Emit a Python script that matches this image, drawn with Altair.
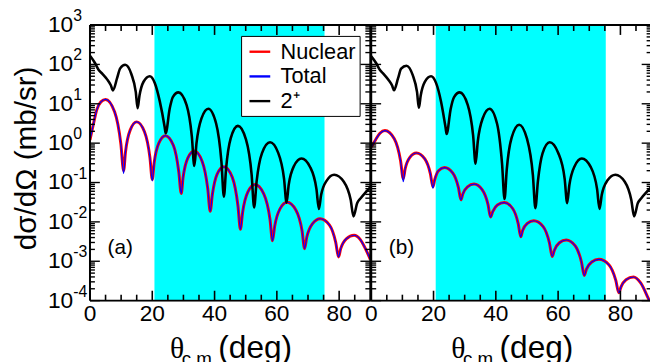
import altair as alt
import pandas as pd

# ---------------- data ----------------
SERIES = ["Nuclear", "Total", "2⁺"]
COLORS = ["#ff0000", "#0000ff", "#000000"]
WIDTHS = [3.0, 1.2, 2.6]

# panel (a)
THETA_A_NUC = [0.0, 1.0, 2.2, 3.5, 5.0, 7.9, 9.9, 10.8, 11.4, 12.9, 15.0, 17.5, 19.25, 20.0, 20.6, 22.1,
               24.2, 26.8, 28.5, 29.3, 29.9, 31.4, 33.5, 36.0, 37.8, 38.6, 39.3, 40.8, 43.0, 45.7, 47.5,
               48.3, 49.0, 50.7, 53.0, 55.8, 57.8, 58.6, 59.3, 61.0, 63.3, 66.1, 68.1, 68.9, 69.6, 71.4,
               73.9, 76.9, 78.9, 79.8, 80.5, 82.3, 84.8, 86.8, 88.5, 90.0]
NUC_A = [1.2, 2.8, 7.1, 11.2, 12.9, 6.3, 0.98, 0.20, 0.59, 2.14, 3.47, 1.95, 0.43, 0.12, 0.316, 1.0,
         1.55, 0.87, 0.19, 0.0525, 0.135, 0.417, 0.63, 0.347, 0.0708, 0.0186, 0.0501, 0.162, 0.251,
         0.135, 0.0257, 0.00646, 0.0174, 0.0575, 0.0891, 0.0513, 0.0115, 0.00331, 0.00776, 0.0214,
         0.0316, 0.0200, 0.00589, 0.00209, 0.00407, 0.00891, 0.0120, 0.00832, 0.00302, 0.00129,
         0.00209, 0.00372, 0.00457, 0.00355, 0.00204, 0.00112]
TOT_A = [1.2, 2.8, 7.1, 11.2, 12.9, 6.3, 0.98, 0.17, 0.59, 2.14, 3.47, 1.95, 0.43, 0.11, 0.316, 1.0,
         1.55, 0.87, 0.19, 0.0525, 0.135, 0.417, 0.63, 0.347, 0.0708, 0.0186, 0.0501, 0.162, 0.251,
         0.135, 0.0257, 0.00646, 0.0174, 0.0575, 0.0891, 0.0513, 0.0115, 0.00331, 0.00776, 0.0214,
         0.0316, 0.0200, 0.00589, 0.00209, 0.00407, 0.00891, 0.0120, 0.00832, 0.00302, 0.00129,
         0.00209, 0.00372, 0.00457, 0.00355, 0.00204, 0.00112]
THETA_A_BLK = [0.0, 1.5, 2.8, 4.0, 5.5, 6.7, 7.4, 8.7, 9.7, 11.3, 13.3, 14.7, 15.3, 15.9, 17.2, 19.2,
               20.8, 22.4, 24.0, 24.3, 25.6, 26.6, 28.4, 31.0, 32.7, 33.5, 34.2, 35.8, 38.0, 40.5, 42.2,
               43.0, 43.7, 45.2, 47.5, 50.1, 51.9, 52.7, 53.5, 55.2, 57.8, 60.4, 62.3, 63.1, 63.8, 65.5,
               67.9, 70.7, 72.7, 73.5, 74.2, 76.0, 78.4, 81.5, 83.7, 84.6, 85.8, 86.9, 88.5, 90.0]
BLK_A = [166, 112, 72.4, 57.5, 41.7, 29.5, 21.9, 44.7, 79.4, 97.7, 56.2, 20.0, 7.67, 16.2, 36.3, 50.1,
         33.9, 11.7, 2.51, 1.78, 7.59, 14.8, 19.5, 9.33, 1.48, 0.263, 1.0, 4.27, 7.50, 3.16, 0.339,
         0.0437, 0.229, 1.35, 2.75, 1.23, 0.158, 0.0234, 0.107, 0.550, 1.05, 0.575, 0.126, 0.0309,
         0.0871, 0.263, 0.407, 0.245, 0.0692, 0.0214, 0.0479, 0.112, 0.158, 0.105, 0.0363, 0.0138,
         0.0302, 0.0398, 0.0562, 0.0759]

# panel (b)
THETA_B_NUC = [0.0, 1.5, 2.8, 4.4, 7.4, 9.4, 10.3, 10.9, 12.4, 14.5, 17.2, 19.0, 19.8, 20.4, 21.6, 23.5,
               26.2, 28.0, 28.8, 29.4, 30.9, 33.0, 35.6, 37.5, 38.3, 39.0, 40.5, 42.7, 45.4, 47.2, 48.0,
               48.6, 50.1, 52.2, 55.2, 57.2, 58.1, 58.8, 60.4, 62.6, 65.5, 67.5, 68.4, 69.1, 70.8, 73.1,
               76.3, 78.5, 79.5, 80.2, 81.8, 84.2, 86.5, 89.0, 90.0]
NUC_B = [0.794, 1.26, 1.78, 2.09, 1.29, 0.363, 0.126, 0.224, 0.437, 0.562, 0.398, 0.166, 0.0776, 0.120,
         0.200, 0.240, 0.174, 0.0741, 0.0363, 0.0513, 0.0776, 0.0912, 0.0661, 0.0275, 0.0132, 0.0182,
         0.0269, 0.0309, 0.0219, 0.00891, 0.00417, 0.00603, 0.00912, 0.0107, 0.00759, 0.00295, 0.00132,
         0.00191, 0.00295, 0.00347, 0.00245, 0.000955, 0.000437, 0.000631, 0.000955, 0.00112, 0.000813,
         0.000331, 0.000158, 0.000224, 0.000339, 0.000398, 0.000282, 0.000112, 0.0000759]
TOT_B = [0.794, 1.26, 1.78, 2.09, 1.29, 0.363, 0.105, 0.224, 0.437, 0.562, 0.398, 0.166, 0.072, 0.120,
         0.200, 0.240, 0.174, 0.0741, 0.0363, 0.0513, 0.0776, 0.0912, 0.0661, 0.0275, 0.0132, 0.0182,
         0.0269, 0.0309, 0.0219, 0.00891, 0.00417, 0.00603, 0.00912, 0.0107, 0.00759, 0.00295, 0.00132,
         0.00191, 0.00295, 0.00347, 0.00245, 0.000955, 0.000437, 0.000631, 0.000955, 0.00112, 0.000813,
         0.000331, 0.000158, 0.000224, 0.000339, 0.000398, 0.000282, 0.000112, 0.0000759]
THETA_B_BLK = [0.0, 1.5, 2.8, 4.0, 5.5, 6.7, 7.3, 8.6, 9.6, 11.3, 13.3, 14.7, 15.3, 15.9, 17.2, 19.2,
               20.8, 22.4, 23.9, 24.2, 25.5, 26.6, 28.4, 31.0, 32.7, 33.5, 34.2, 35.8, 38.0, 40.4, 42.0,
               42.8, 43.5, 45.1, 47.5, 50.0, 51.9, 52.7, 53.5, 55.0, 57.3, 60.0, 62.1, 62.9, 63.6, 65.3,
               67.6, 70.5, 72.5, 73.3, 74.0, 75.8, 78.4, 81.4, 83.5, 84.4, 85.6, 86.7, 88.3, 90.0]
BLK_B = [160, 110, 72, 57, 41, 29, 22, 44, 78, 93, 54, 20, 7.9, 16.5, 36, 50,
         34, 11.5, 2.4, 1.7, 7.4, 14.8, 19.5, 9.3, 1.6, 0.30, 1.1, 4.3, 7.5, 3.1, 0.30,
         0.038, 0.21, 1.4, 2.95, 1.3, 0.155, 0.0224, 0.105, 0.55, 1.05, 0.57, 0.124, 0.030,
         0.085, 0.26, 0.407, 0.245, 0.069, 0.0214, 0.048, 0.112, 0.158, 0.105, 0.036, 0.0138,
         0.030, 0.040, 0.056, 0.078]

SHADE_LO, SHADE_HI = 20.7, 75.3
PANELS = ["(a)", "(b)"]
PANEL_LABEL_POS = (9.7, 0.0022)
X_MAJOR = [0, 20, 40, 60, 80]
X_MINOR = [5, 10, 15, 25, 30, 35, 45, 50, 55, 65, 70, 75, 85]
Y_MAJOR = [1e-4, 1e-3, 1e-2, 1e-1, 1e0, 1e1, 1e2, 1e3]
Y_EXP = ["-4", "-3", "-2", "-1", "0", "1", "2", "3"]
Y_MINOR = [m * 10.0 ** k for k in range(-4, 3) for m in range(2, 10)]
Y_TITLE = "dσ/dΩ (mb/sr)"
X_TITLE = ["θ", "c.m.", "(deg)"]

# ---------------- layout ----------------
OFFSET_B = 90.3          # panel (b) sits right of panel (a) on one shared x scale
X_MAX = 179.8
W, H = 567, 279
FONT = "Liberation Sans"

rows = []
def add(panel, sid, thetas, vals):
    off = 0.0 if panel == "(a)" else OFFSET_B
    for t, v in zip(thetas, vals):
        rows.append({"panel": panel, "sid": sid, "series": SERIES[sid],
                     "key": f"{sid}{panel}", "xc": t + off, "v": v})

add("(a)", 0, THETA_A_NUC, NUC_A)
add("(a)", 1, THETA_A_NUC, TOT_A)
add("(a)", 2, THETA_A_BLK, BLK_A)
add("(b)", 0, THETA_B_NUC, NUC_B)
add("(b)", 1, THETA_B_NUC, TOT_B)
add("(b)", 2, THETA_B_BLK, BLK_B)
df = pd.DataFrame(rows)

xscale = alt.Scale(domain=[0, X_MAX], nice=False, zero=False)
yscale = alt.Scale(type="log", domain=[1e-4, 1e3], nice=False)

def X(f):
    return alt.X(f, scale=xscale, axis=None)

def Y(f):
    return alt.Y(f, scale=yscale, axis=None)

# shaded region
shade_df = pd.DataFrame({"lo": [SHADE_LO, SHADE_LO + OFFSET_B],
                         "hi": [SHADE_HI, SHADE_HI + OFFSET_B],
                         "ylo": [1e-4, 1e-4], "yhi": [1e3, 1e3]})
shade = alt.Chart(shade_df).mark_rect(color="#00ffff").encode(
    x=X("lo:Q"), x2="hi:Q", y=Y("ylo:Q"), y2="yhi:Q")

legend = alt.Legend(title=None, orient="none", legendX=153, legendY=11,
                    fillColor="white", strokeColor="black", padding=4,
                    symbolType="stroke", symbolSize=441, symbolOffset=3,
                    symbolStrokeWidth=2.4,
                    labelFont=FONT, labelFontSize=22, labelColor="black",
                    labelOffset=9, rowPadding=2)
color_enc = alt.Color("series:N", scale=alt.Scale(domain=SERIES, range=COLORS), legend=legend)

def curve(sid):
    return alt.Chart(df).transform_filter(alt.datum.sid == sid).mark_line(
        interpolate="monotone", clip=True, strokeWidth=WIDTHS[sid]).encode(
        x=X("xc:Q"), y=Y("v:Q"), color=color_enc, detail="key:N")

# frame
frame_df = pd.DataFrame({
    "x": [0, 0, 0, 90, OFFSET_B],
    "x2": [OFFSET_B + 90, OFFSET_B + 90, 0, 90, OFFSET_B],
    "y": [1e-4, 1e3, 1e-4, 1e-4, 1e-4],
    "y2": [1e-4, 1e3, 1e3, 1e3, 1e3],
})
frame = alt.Chart(frame_df).mark_rule(color="black", strokeWidth=2).encode(
    x=X("x:Q"), x2="x2:Q", y=Y("y:Q"), y2="y2:Q")

layers = [shade, curve(0), curve(1), curve(2), frame]

# inward ticks, x (bottom and top)
for vals, ln in [(X_MAJOR, 10), (X_MINOR, 6)]:
    xs = vals + [v + OFFSET_B for v in vals]
    tdf = pd.DataFrame({"x": xs})
    layers.append(alt.Chart(tdf).mark_rule(color="black", strokeWidth=1.6).encode(
        x=X("x:Q"), y=alt.value(H), y2=alt.value(H - ln)))
    layers.append(alt.Chart(tdf).mark_rule(color="black", strokeWidth=1.6).encode(
        x=X("x:Q"), y=alt.value(0), y2=alt.value(ln)))

# inward ticks, y (four vertical axes)
for xpos, sign in [(0, 1), (90, -1), (OFFSET_B, 1), (OFFSET_B + 90, -1)]:
    for vals, ln in [(Y_MAJOR, 10), (Y_MINOR, 5)]:
        tdf = pd.DataFrame({"y": vals, "x": [xpos] * len(vals)})
        layers.append(alt.Chart(tdf).mark_rule(color="black", strokeWidth=1.4, x2Offset=sign * ln).encode(
            x=X("x:Q"), x2="x:Q", y=Y("y:Q")))

# tick labels
xl_df = pd.DataFrame({"x": X_MAJOR + [v + OFFSET_B for v in X_MAJOR],
                      "t": [str(v) for v in X_MAJOR] * 2})
layers.append(alt.Chart(xl_df).mark_text(font=FONT, fontSize=23, color="black",
                                         align="center", baseline="top").encode(
    x=X("x:Q"), y=alt.value(H + 3), text="t:N"))
yl_df = pd.DataFrame({"y": Y_MAJOR, "e": Y_EXP, "b": ["10"] * len(Y_MAJOR)})
layers.append(alt.Chart(yl_df).mark_text(font=FONT, fontSize=23, color="black",
                                         align="right", baseline="middle").encode(
    x=alt.value(-17), y=Y("y:Q"), text="b:N"))
layers.append(alt.Chart(yl_df).mark_text(font=FONT, fontSize=16, color="black",
                                         align="left", baseline="middle", dy=-9).encode(
    x=alt.value(-17), y=Y("y:Q"), text="e:N"))

# y title
layers.append(alt.Chart(pd.DataFrame({"t": [Y_TITLE]})).mark_text(
    font=FONT, fontSize=30, color="black", angle=270, align="center",
    baseline="alphabetic").encode(x=alt.value(-55), y=alt.value(135), text="t:N"))

# panel labels
lab_df = pd.DataFrame({"x": [PANEL_LABEL_POS[0], PANEL_LABEL_POS[0] + OFFSET_B],
                       "y": [PANEL_LABEL_POS[1]] * 2, "t": PANELS})
layers.append(alt.Chart(lab_df).mark_text(font=FONT, fontSize=21, color="black",
                                          align="center", baseline="middle").encode(
    x=X("x:Q"), y=Y("y:Q"), text="t:N"))

# x titles (theta with subscript c.m.) under each panel
tt_df = pd.DataFrame({"x": [45, 45 + OFFSET_B]})
for txt, dx, yy, fs, fnt in [(X_TITLE[0], -61, 337, 30, "Liberation Serif"),
                             (X_TITLE[1], -49, 344, 19, FONT),
                             (X_TITLE[2], -12, 337, 32, FONT)]:
    layers.append(alt.Chart(tt_df).mark_text(text=txt, font=fnt, fontSize=fs, color="black",
                                             align="left", baseline="alphabetic", dx=dx).encode(
        x=X("x:Q"), y=alt.value(yy)))

chart = alt.layer(*layers).properties(
    width=W, height=H,
    padding={"left": 83, "top": 15, "right": 0, "bottom": 70},
    autosize=alt.AutoSizeParams(type="none"),
).configure_view(stroke=None).configure(background="white")

chart.save("out.html", embed_options={"renderer": "svg", "actions": False})
